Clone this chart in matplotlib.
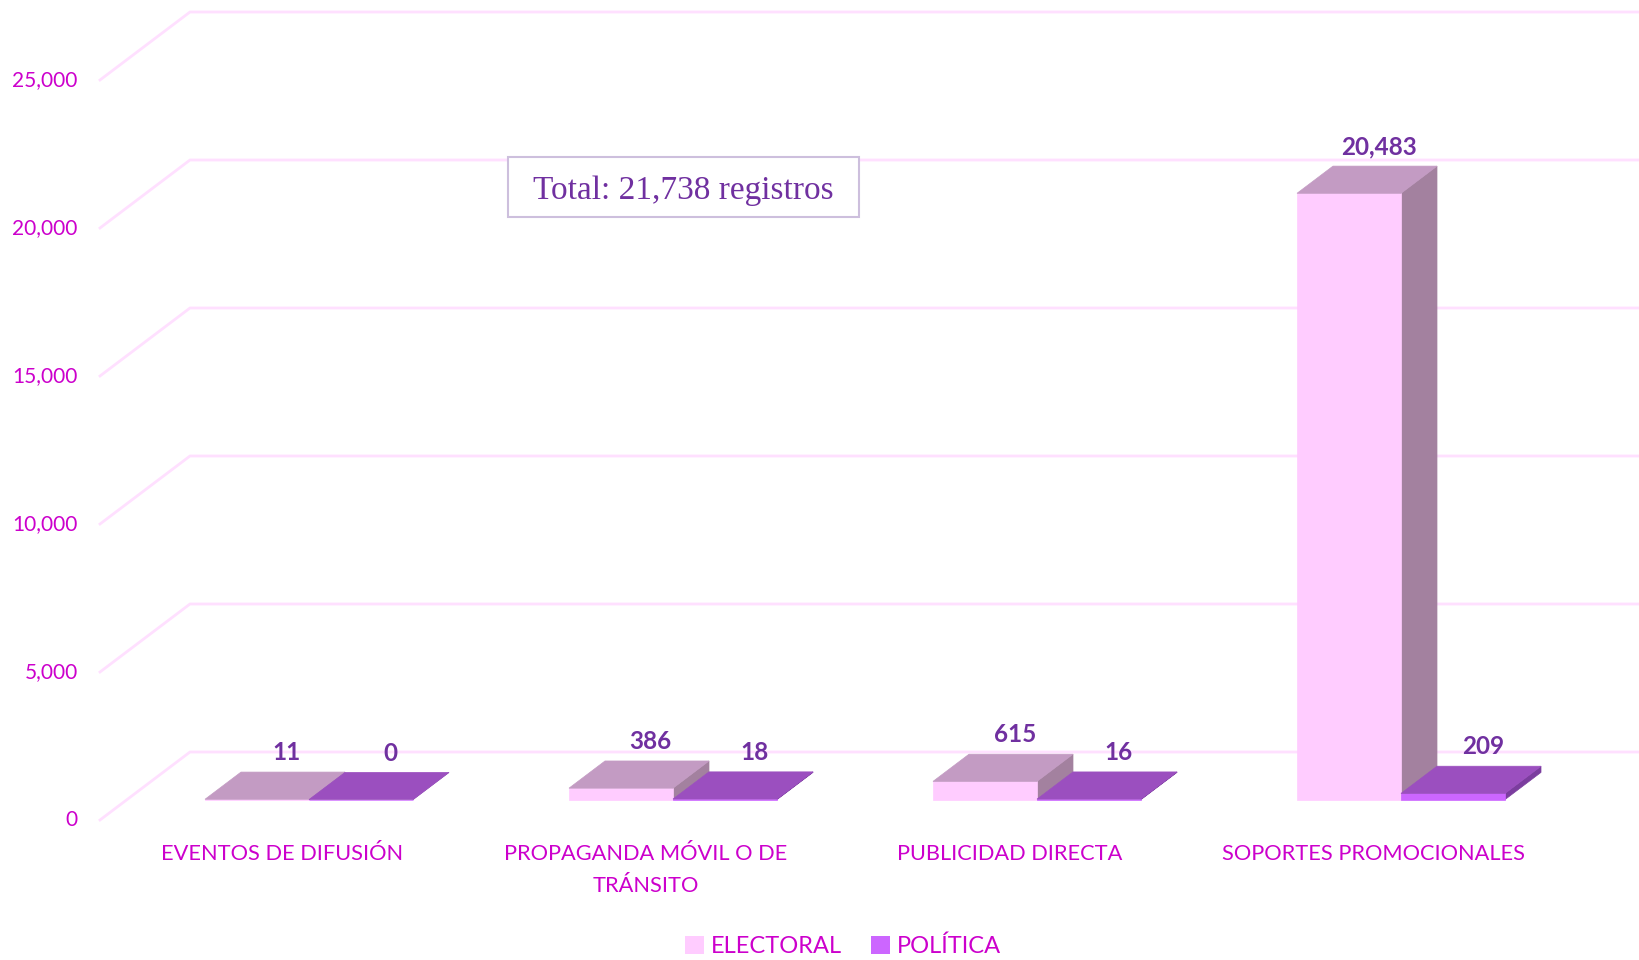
import matplotlib
matplotlib.use("Agg")
import matplotlib.pyplot as plt
from matplotlib.patches import Polygon, Patch, Rectangle

# data
categories = ["EVENTOS DE DIFUSIÓN", "PROPAGANDA MÓVIL O DE\nTRÁNSITO",
              "PUBLICIDAD DIRECTA", "SOPORTES PROMOCIONALES"]
electoral = [11, 386, 615, 20483]
politica = [0, 18, 16, 209]
series_names = ["ELECTORAL", "POLÍTICA"]
yticks = [0, 5000, 10000, 15000, 20000, 25000]
total_text = "Total: 21,738 registros"

# face colours per series: front, top, side
colors = [("#FFCCFF", "#C39BC3", "#A3819F"),
          ("#CC66FF", "#9B4FBF", "#7B3D9E")]
tick_color = "#CC00CC"
label_color = "#7030A0"
grid_color = "#FFE0FF"

plt.rcParams["font.family"] = ["Lato", "DejaVu Sans"]

W, H = 1639, 960
fig = plt.figure(figsize=(W / 100, H / 100), dpi=100)
ax = fig.add_axes([0, 0, 1, 1])
ax.set_axis_off()

# layout of the front plane (pixels) and the oblique depth offset
x0_px, slot_px = 100, 364
y0_px, vscale = 820, 0.0296
depth_dx_px, depth_dy_px = 90, 68

ax.set_xlim(-0.5 - x0_px / slot_px, -0.5 + (W - x0_px) / slot_px)
ax.set_ylim(-(H - y0_px) / vscale, y0_px / vscale)

DX = depth_dx_px / slot_px
DY = depth_dy_px / vscale


def proj(x, v, d):
    return x + d * DX, v + d * DY


# walls: gridlines on the side wall and the back wall
for t in yticks:
    xa, ya = proj(-0.5, t, 0)
    xb, yb = proj(-0.5, t, 1)
    xc, yc = proj(len(categories) - 0.5, t, 1)
    ax.plot([xa, xb, xc + 0.5], [ya, yb, yc], color=grid_color, lw=2,
            solid_joinstyle="miter", zorder=1)
    ax.annotate(f"{t:,}", (xa, ya), xytext=(-16, 0), textcoords="offset points",
                ha="right", va="center", fontsize=15, color=tick_color)

# bars
w = 1 / 3.5
d0, d1 = 0.3, 0.7
z = 2
for i in range(len(categories)):
    for s, vals in enumerate([electoral, politica]):
        v = vals[i]
        xl = i - w + s * w
        xr = xl + w
        front_c, top_c, side_c = colors[s]
        side = [proj(xr, 0, d0), proj(xr, 0, d1), proj(xr, v, d1), proj(xr, v, d0)]
        front = [proj(xl, 0, d0), proj(xr, 0, d0), proj(xr, v, d0), proj(xl, v, d0)]
        top = [proj(xl, v, d0), proj(xr, v, d0), proj(xr, v, d1), proj(xl, v, d1)]
        for pts, c in [(side, side_c), (front, front_c), (top, top_c)]:
            ax.add_patch(Polygon(pts, closed=True, fc=c, ec=c, lw=0.5, zorder=z))
            z += 1
        lx, ly = proj((xl + xr) / 2, v, 0.63)
        ax.annotate(f"{v:,}", (lx, ly), xytext=(0, 9), textcoords="offset points",
                    ha="center", va="bottom", fontsize=17.5, fontweight="bold",
                    color=label_color, zorder=50)

# category labels
for i, name in enumerate(categories):
    ax.annotate(name, (i, 0), xytext=(0, -17.5), textcoords="offset points",
                ha="center", va="top", fontsize=15.7, color=tick_color,
                linespacing=1.7)

# total box
fig.patches.append(Rectangle((508 / W, 1 - 217 / H), 351 / W, 60 / H,
                             transform=fig.transFigure, fc="white", ec="#CDBFDD",
                             lw=1.5, zorder=40))
fig.text(683 / W, 1 - 191 / H, total_text, ha="center", va="center",
         family="Liberation Serif", fontsize=24, color=label_color, zorder=41)

handles = [Patch(fc=colors[0][0], ec="none"), Patch(fc=colors[1][0], ec="none")]
fig.legend(handles, series_names, loc="center", bbox_to_anchor=(843 / W, 1 - 946 / H),
           ncol=2, frameon=False, fontsize=17, handlelength=0.8, handleheight=0.8,
           handletextpad=0.3, columnspacing=1.2, labelcolor=tick_color)

fig.savefig("out.png", dpi=100)
